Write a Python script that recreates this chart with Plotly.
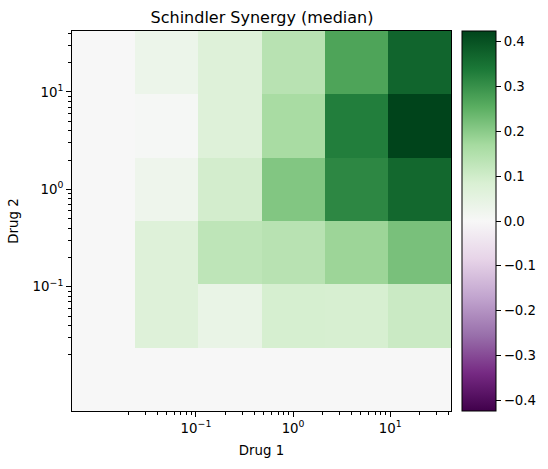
import numpy as np
import plotly.graph_objects as go

# Doses (same grid for both drugs); the zero dose is shown one step below the lowest dose
doses = [0.0, 0.05, 0.2236, 1.0, 4.472, 20.0]
drug1_label = "Drug 1"
drug2_label = "Drug 2"
title = "Schindler Synergy (median)"

# Median Schindler synergy, rows = Drug 2 dose (low -> high), cols = Drug 1 dose (low -> high)
synergy = [
    [0.000, 0.000, 0.000, 0.000, 0.000, 0.000],
    [0.000, 0.070, 0.040, 0.090, 0.088, 0.110],
    [0.000, 0.070, 0.130, 0.140, 0.180, 0.220],
    [0.000, 0.025, 0.095, 0.210, 0.315, 0.365],
    [0.000, 0.005, 0.070, 0.165, 0.330, 0.424],
    [0.000, 0.030, 0.070, 0.140, 0.270, 0.370],
]
zlim = 0.424

major_vals = [0.1, 1, 10]
major_text = ["10<sup>\u22121</sup>", "10<sup>0</sup>", "10<sup>1</sup>"]
minor_vals = [m * 10.0 ** e for e in (-2, -1, 0) for m in range(2, 10)] + [20, 30, 40]
cbar_vals = [-0.4, -0.3, -0.2, -0.1, 0.0, 0.1, 0.2, 0.3, 0.4]


def log_edges(d):
    pos = np.array(d, dtype=float)
    ratio = pos[2] / pos[1]
    pos[0] = pos[1] / ratio
    lg = np.log10(pos)
    mids = (lg[:-1] + lg[1:]) / 2
    first = lg[0] - (mids[0] - lg[0])
    last = lg[-1] + (lg[-1] - mids[-1])
    return np.concatenate([[first], mids, [last]])


xe = log_edges(doses)
ye = log_edges(doses)

PRGn = ['rgb(64,0,75)', 'rgb(118,42,131)', 'rgb(153,112,171)', 'rgb(194,165,207)',
        'rgb(231,212,232)', 'rgb(247,247,247)', 'rgb(217,240,211)', 'rgb(166,219,160)',
        'rgb(90,174,97)', 'rgb(27,120,55)', 'rgb(0,68,27)']
cscale = [[i / 10, c] for i, c in enumerate(PRGn)]

font = dict(family="DejaVu Sans", size=13.33, color="black")

fig = go.Figure(go.Heatmap(
    x=xe, y=ye, z=synergy,
    colorscale=cscale, zmin=-zlim, zmax=zlim,
    hovertemplate="Drug 1: %{x}<br>Drug 2: %{y}<br>%{z}<extra></extra>",
    colorbar=dict(
        x=(462 - 72) / 380, xanchor="left", xpad=0, ypad=0,
        y=0.5, yanchor="middle", len=1, lenmode="fraction",
        thickness=34, outlinewidth=1, outlinecolor="black",
        tickvals=cbar_vals, tickformat=".1f", ticks="outside", ticklen=5, tickwidth=1,
        tickcolor="black",
        tickfont=font,
    ),
))


def axis(edges, label, standoff):
    return dict(
        type="linear", range=[edges[0], edges[-1]],
        tickmode="array", tickvals=list(np.log10(major_vals)), ticktext=major_text,
        ticks="outside", ticklen=5, tickwidth=1, tickcolor="black",
        minor=dict(tickmode="array", tickvals=list(np.log10(minor_vals)), ticks="outside",
                   ticklen=3, tickwidth=1, tickcolor="black", showgrid=False),
        showgrid=False, zeroline=False,
        showline=True, linecolor="black", linewidth=1, mirror=True,
        tickfont=font,
        title=dict(text=label, standoff=standoff, font=font),
    )


fig.update_layout(
    width=548, height=469,
    margin=dict(l=72, r=96, t=31, b=58),
    paper_bgcolor="white", plot_bgcolor="white",
    font=dict(family="DejaVu Sans", color="black"),
    title=dict(text=title, x=(72 + 190) / 548, xanchor="center", y=1 - 17 / 469, yanchor="middle",
               font=dict(family="DejaVu Sans", size=16, color="black")),
    xaxis=axis(xe, drug1_label, 10),
    yaxis=axis(ye, drug2_label, 10),
)

fig.write_html("out.html")
